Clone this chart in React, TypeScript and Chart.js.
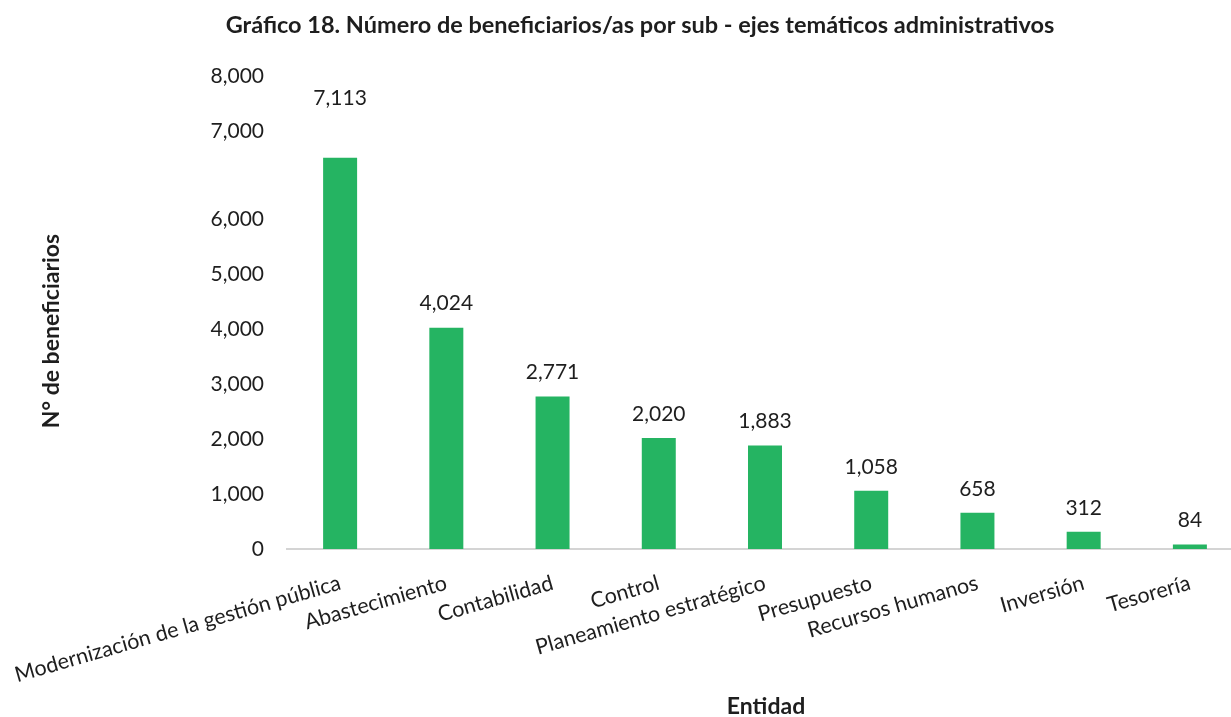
import React, { useEffect, useRef } from "react";
import { Chart, registerables } from "chart.js";

Chart.register(...registerables);

const categories = [
  "Modernización de la gestión pública",
  "Abastecimiento",
  "Contabilidad",
  "Control",
  "Planeamiento estratégico",
  "Presupuesto",
  "Recursos humanos",
  "Inversión",
  "Tesorería",
];
const beneficiarios = [7113, 4024, 2771, 2020, 1883, 1058, 658, 312, 84];
const tickValues = [0, 1000, 2000, 3000, 4000, 5000, 6000, 7600, 8600];
const tickLabels = ["0", "1,000", "2,000", "3,000", "4,000", "5,000", "6,000", "7,000", "8,000"];

const chartTitle = "Gráfico 18. Número de beneficiarios/as por sub - ejes temáticos administrativos";
const yTitle = "N° de beneficiarios";
const xTitle = "Entidad";

const FONT = "Lato, 'Open Sans', sans-serif";
const TEXT = "#1e1e1e";

const fmt = (v: number) => v.toLocaleString("en-US");

export default function App() {
  const ref = useRef<HTMLCanvasElement | null>(null);
  useEffect(() => {
    document.body.style.margin = "0";
    const canvas = ref.current!;
    const labelsPlugin = {
      id: "extras",
      afterDatasetsDraw(chart: any) {
        const ctx = chart.ctx;
        const meta = chart.getDatasetMeta(0);
        ctx.save();
        ctx.fillStyle = TEXT;
        ctx.font = `21px ${FONT}`;
        ctx.textAlign = "center";
        ctx.textBaseline = "middle";
        meta.data.forEach((bar: any, i: number) => {
          const lift = i === 0 ? 60 : 24;
          ctx.fillText(fmt(beneficiarios[i]), bar.x, bar.y - lift);
        });
        // chart title
        ctx.font = `bold 23.5px ${FONT}`;
        ctx.fillText(chartTitle, 640, 25);
        // x axis title
        ctx.font = `bold 23px ${FONT}`;
        ctx.fillText(xTitle, 766, 707);
        // y axis title
        ctx.translate(52, 331);
        ctx.rotate(-Math.PI / 2);
        ctx.fillText(yTitle, 0, 0);
        ctx.restore();
      },
    };
    const chart = new Chart(canvas, {
      type: "bar",
      data: {
        labels: categories,
        datasets: [
          {
            data: beneficiarios,
            backgroundColor: "#25b462",
            categoryPercentage: 1,
            barPercentage: 0.32,
          },
        ],
      },
      options: {
        responsive: false,
        animation: false,
        layout: { padding: { top: 76, right: 1, left: 0, bottom: 0 } },
        plugins: { legend: { display: false }, tooltip: { enabled: false } },
        scales: {
          x: {
            grid: { display: false, drawTicks: false },
            border: { display: true, color: "#d4d4d4", width: 2 },
            ticks: {
              autoSkip: false,
              maxRotation: 16,
              minRotation: 16,
              padding: 21,
              color: TEXT,
              font: { family: FONT, size: 21.5 },
            },
            afterFit: (scale: any) => {
              scale.height = 168;
              scale.paddingLeft = 0;
              scale.paddingRight = 0;
            },
          },
          y: {
            min: 0,
            max: 8600,
            grid: { display: false, drawTicks: false },
            border: { display: false },
            afterBuildTicks: (scale: any) => {
              scale.ticks = tickValues.map((v) => ({ value: v }));
            },
            ticks: {
              padding: 23,
              color: TEXT,
              font: { family: FONT, size: 21 },
              callback: (_v: any, i: number) => tickLabels[i],
            },
            afterFit: (scale: any) => {
              scale.width = 287;
            },
          },
        },
      },
      plugins: [labelsPlugin],
    });
    return () => chart.destroy();
  }, []);
  return (
    <div style={{ position: "absolute", left: 0, top: 0, width: 1231, height: 717, overflow: "hidden", background: "#fff" }}>
      <canvas ref={ref} width={1244} height={717} style={{ width: 1244, height: 717 }} />
    </div>
  );
}
